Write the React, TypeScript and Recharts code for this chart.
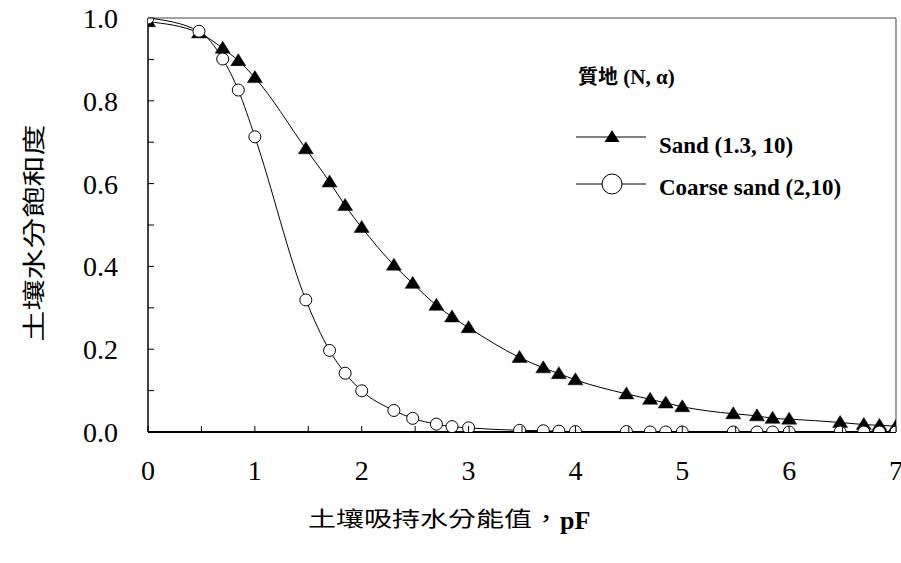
import React from 'react';
import { LineChart, Line, XAxis, YAxis, ReferenceLine } from 'recharts';

// pF = log10(suction)
const pF = [0, 0.477, 0.699, 0.845, 1, 1.477, 1.699, 1.845, 2, 2.301, 2.477, 2.699, 2.845, 3, 3.477, 3.699, 3.845, 4, 4.477, 4.699, 4.845, 5, 5.477, 5.699, 5.845, 6, 6.477, 6.699, 6.845, 7];
const sand = [0.991, 0.964, 0.927, 0.897, 0.856, 0.684, 0.604, 0.547, 0.494, 0.403, 0.359, 0.306, 0.278, 0.252, 0.18, 0.155, 0.141, 0.126, 0.092, 0.079, 0.07, 0.061, 0.044, 0.039, 0.033, 0.031, 0.023, 0.018, 0.016, 0.014];
const coarseSand = [1.0, 0.968, 0.901, 0.826, 0.713, 0.319, 0.197, 0.142, 0.0995, 0.052, 0.033, 0.019, 0.013, 0.01, 0.004, 0.003, 0.002, 0.001, 0.001, 0, 0, 0, 0, 0, 0, 0, 0, 0, 0, 0];

const xTicks = [0, 0.5, 1, 1.5, 2, 2.5, 3, 3.5, 4, 4.5, 5, 5.5, 6, 6.5, 7];
const yTicks = [0, 0.1, 0.2, 0.3, 0.4, 0.5, 0.6, 0.7, 0.8, 0.9, 1];

const seriesNames = ['Sand (1.3, 10)', 'Coarse sand (2,10)'];
const xTitle = '土壤吸持水分能值';
const yTitle = '土壤水分飽和度';

const data = pF.map((x, i) => ({ x, sand: sand[i], coarse: coarseSand[i] }));

const SERIF = '"Liberation Serif", "Times New Roman", serif';
const CJK = '"Noto Sans CJK TC", "Noto Sans CJK SC", sans-serif';

const triangle = (cx: number, cy: number) =>
  `M${cx},${cy - 7} L${cx - 7.5},${cy + 5} L${cx + 7.5},${cy + 5} Z`;

const TriangleDot = (props: any) => {
  const { cx, cy, index } = props;
  if (cx == null || cy == null) return null;
  return <path key={`t-${index}`} d={triangle(cx, cy)} fill="#000" stroke="#000" strokeWidth={0.5} />;
};

const CircleDot = (props: any) => {
  const { cx, cy, index } = props;
  if (cx == null || cy == null) return null;
  return <circle key={`c-${index}`} cx={cx} cy={cy} r={6} fill="#fff" stroke="#000" strokeWidth={1} />;
};

const XTick = (props: any) => {
  const { x, y, payload } = props;
  const v = payload.value;
  const major = Number.isInteger(v);
  return (
    <g>
      <line x1={x} y1={y} x2={x} y2={y - 6} stroke="#000" strokeWidth={1} />
      {major && (
        <text x={x} y={y + 48} textAnchor="middle" style={{ fontFamily: SERIF, fontSize: 28 }} fill="#000">
          {v}
        </text>
      )}
    </g>
  );
};

const YTick = (props: any) => {
  const { x, y, payload } = props;
  const v = payload.value;
  const major = Math.round(v * 10) % 2 === 0;
  return (
    <g>
      <line x1={x} y1={y} x2={x + 6} y2={y} stroke="#000" strokeWidth={1} />
      {major && (
        <text x={x - 30} y={y + 10} textAnchor="end" style={{ fontFamily: SERIF, fontSize: 28 }} fill="#000">
          {v.toFixed(1)}
        </text>
      )}
    </g>
  );
};

const LegendBox = () => (
  <svg width={340} height={170} style={{ position: 'absolute', left: 560, top: 42 }}>
    <text x={18} y={42} style={{ fontFamily: SERIF, fontSize: 21, fontWeight: 'bold' }} fill="#000">
      <tspan style={{ fontFamily: CJK, fontSize: 20 }}>質地</tspan>
      <tspan> (N, α)</tspan>
    </text>
    <line x1={16} y1={95} x2={86} y2={95} stroke="#000" strokeWidth={1} />
    <path d={triangle(52, 95)} fill="#000" />
    <text x={99} y={111} style={{ fontFamily: SERIF, fontSize: 23, fontWeight: 'bold' }} fill="#000">
      {seriesNames[0]}
    </text>
    <line x1={16} y1={142} x2={86} y2={142} stroke="#000" strokeWidth={1} />
    <circle cx={52} cy={142} r={10} fill="#fff" stroke="#000" strokeWidth={1} />
    <text x={99} y={153} style={{ fontFamily: SERIF, fontSize: 23, fontWeight: 'bold' }} fill="#000">
      {seriesNames[1]}
    </text>
  </svg>
);

export default function App() {
  return (
    <div style={{ position: 'absolute', left: 0, top: 0, width: 901, height: 563, background: '#fff' }}>
      <LineChart
        width={901}
        height={563}
        data={data}
        margin={{ top: 18, right: 5, bottom: 71, left: 88 }}
      >
        <XAxis
          dataKey="x"
          type="number"
          domain={[0, 7]}
          ticks={xTicks}
          interval={0}
          height={60}
          tickSize={0}
          tickMargin={0}
          tickLine={false}
          tick={<XTick />}
          axisLine={{ stroke: '#000', strokeWidth: 2 }}
          allowDataOverflow
        />
        <YAxis
          type="number"
          domain={[0, 1]}
          ticks={yTicks}
          interval={0}
          width={60}
          tickSize={0}
          tickMargin={0}
          tickLine={false}
          tick={<YTick />}
          axisLine={{ stroke: '#000', strokeWidth: 1.5 }}
          allowDataOverflow
        />
        <ReferenceLine y={1} stroke="#444" strokeWidth={1} />
        <ReferenceLine x={7} stroke="#444" strokeWidth={1} />
        <Line
          dataKey="sand"
          name={seriesNames[0]}
          type="monotone"
          stroke="#000"
          strokeWidth={1}
          dot={TriangleDot}
          isAnimationActive={false}
        />
        <Line
          dataKey="coarse"
          name={seriesNames[1]}
          type="monotone"
          stroke="#000"
          strokeWidth={1}
          dot={CircleDot}
          isAnimationActive={false}
        />
      </LineChart>
      <LegendBox />
      <div
        style={{
          position: 'absolute',
          left: 32,
          top: 233,
          transform: 'translate(-50%, -50%) rotate(-90deg) scaleY(0.72)',
          fontFamily: CJK,
          fontSize: 31,
          whiteSpace: 'nowrap',
          color: '#000',
        }}
      >
        {yTitle}
      </div>
      <div
        style={{
          position: 'absolute',
          left: 308,
          top: 497,
          whiteSpace: 'nowrap',
          color: '#000',
          display: 'flex',
          alignItems: 'baseline',
        }}
      >
        <span style={{ fontFamily: CJK, fontSize: 28, display: 'inline-block', transform: 'scaleY(0.75)' }}>
          {xTitle}，
        </span>
        <span style={{ fontFamily: SERIF, fontSize: 26, fontWeight: 'bold' }}>pF</span>
      </div>
    </div>
  );
}
